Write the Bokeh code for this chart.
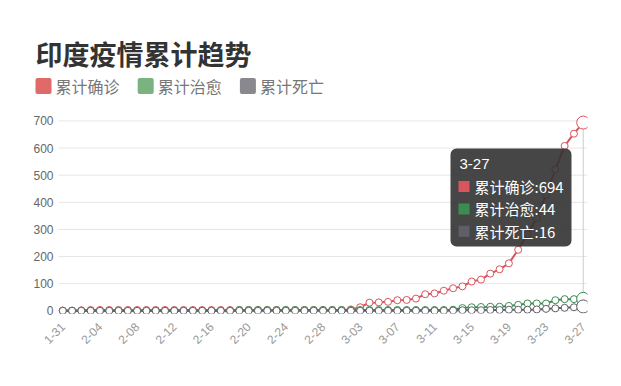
import math
from bokeh.plotting import figure
from bokeh.models import Range1d, FixedTicker, Label, BoxAnnotation, ColumnDataSource
from bokeh.embed import file_html
from bokeh.resources import INLINE

title_text = "印度疫情累计趋势"
series_names = ["累计确诊", "累计治愈", "累计死亡"]
line_colors = ["#d9545d", "#3c8c51", "#5f5f67"]
legend_colors = ["#e06a6a", "#7ab380", "#88888e"]

dates = ["1-31",
         "2-01", "2-02", "2-03", "2-04", "2-05", "2-06", "2-07", "2-08", "2-09", "2-10",
         "2-11", "2-12", "2-13", "2-14", "2-15", "2-16", "2-17", "2-18", "2-19", "2-20",
         "2-21", "2-22", "2-23", "2-24", "2-25", "2-26", "2-27", "2-28", "2-29",
         "3-01", "3-02", "3-03", "3-04", "3-05", "3-06", "3-07", "3-08", "3-09", "3-10",
         "3-11", "3-12", "3-13", "3-14", "3-15", "3-16", "3-17", "3-18", "3-19", "3-20",
         "3-21", "3-22", "3-23", "3-24", "3-25", "3-26", "3-27"]

confirmed = [1,
             1, 2, 3, 3, 3, 3, 3, 3, 3, 3,
             3, 3, 3, 3, 3, 3, 3, 3, 3, 3,
             3, 3, 3, 3, 3, 3, 3, 3, 3,
             3, 5, 13, 30, 31, 33, 39, 40, 45, 61,
             64, 74, 83, 90, 108, 115, 137, 153, 175, 225,
             283, 342, 428, 521, 608, 653, 694]

recovered = [0,
             0, 0, 0, 0, 0, 0, 0, 0, 0, 0,
             0, 0, 0, 0, 0, 0, 0, 0, 3, 3,
             3, 3, 3, 3, 3, 3, 3, 3, 3,
             3, 3, 3, 3, 3, 3, 3, 3, 3, 3,
             3, 3, 4, 10, 13, 14, 15, 15, 18, 22,
             27, 27, 27, 39, 43, 43, 44]

deaths = [0,
          0, 0, 0, 0, 0, 0, 0, 0, 0, 0,
          0, 0, 0, 0, 0, 0, 0, 0, 0, 0,
          0, 0, 0, 0, 0, 0, 0, 0, 0,
          0, 0, 0, 0, 0, 0, 0, 0, 0, 0,
          0, 0, 1, 2, 2, 2, 3, 3, 4, 4,
          4, 5, 7, 9, 11, 13, 16]

y_ticks = [0, 100, 200, 300, 400, 500, 600, 700]

CJK = "Noto Sans CJK SC"
LAT = "Liberation Sans"

n = len(dates)
xs = list(range(n))

# plot band: half a category of padding on each side of the data
x_lo, x_hi = -0.46, n - 1 + 0.46
PX_PER_DAY = 9.293          # 529 px frame band / 56.92 categories
FRAME_L, BAND_L = 30, 58    # drawing frame starts left of the data band (for title/legend)
x_start = x_lo - (BAND_L - FRAME_L) / PX_PER_DAY

p = figure(width=605, height=370, output_backend="svg", toolbar_location=None,
           x_range=Range1d(x_start, x_hi), y_range=Range1d(-10, 1033.5),
           min_border_left=FRAME_L, min_border_right=18, min_border_top=30, min_border_bottom=57)
p.outline_line_color = None
p.background_fill_color = "white"
p.border_fill_color = "white"

# x axis
p.xaxis.ticker = FixedTicker(ticks=list(range(0, n, 4)))
p.xaxis.major_label_overrides = {i: dates[i] for i in range(0, n, 4)}
p.xaxis.major_label_orientation = math.pi / 4
p.xaxis.axis_line_color = None
p.xaxis.major_tick_line_color = None
p.xaxis.minor_tick_line_color = None
p.xaxis.major_tick_out = 0
p.xaxis.major_tick_in = 0
p.xaxis.major_label_text_color = "#999999"
p.xaxis.major_label_text_font = LAT
p.xaxis.major_label_text_font_size = "12px"
p.xaxis.major_label_standoff = 11

# y axis: labels sit just left of the data band
p.yaxis.ticker = FixedTicker(ticks=y_ticks)
p.yaxis.axis_line_color = None
p.yaxis.major_tick_line_color = None
p.yaxis.minor_tick_line_color = None
p.yaxis.major_tick_out = 0
p.yaxis.major_tick_in = 0
p.yaxis.major_label_text_color = "#666666"
p.yaxis.major_label_text_font = LAT
p.yaxis.major_label_text_font_size = "12px"
p.yaxis.major_label_standoff = -23

# horizontal grid lines across the data band only
p.xgrid.grid_line_color = None
p.ygrid.grid_line_color = None
p.segment(x0=[x_lo] * len(y_ticks), y0=y_ticks, x1=[x_hi] * len(y_ticks), y1=y_ticks,
          line_color="#e6e6e6", line_width=1)

# axis pointer at the hovered (last) category
p.segment(x0=[xs[-1]], y0=[0], x1=[xs[-1]], y1=[y_ticks[-1]], line_color="#cccccc", line_width=1)

all_series = [confirmed, recovered, deaths]
for vals, col in zip(all_series, line_colors):
    src = ColumnDataSource(dict(x=xs, y=vals))
    p.line("x", "y", source=src, line_color=col, line_width=2)
    p.scatter("x", "y", source=src, size=7, marker="circle", fill_color="white",
              line_color=col, line_width=1)
    p.scatter([xs[-1]], [vals[-1]], size=13, marker="circle", fill_color="white",
              line_color=col, line_width=1)

# title
p.add_layout(Label(x=35, y=52.5, x_units="canvas", y_units="canvas", text=title_text,
                   text_font=CJK, text_font_size="27px", text_font_style="bold",
                   text_color="#333333", text_baseline="middle", text_align="left"))

# legend
for k, (name, col) in enumerate(zip(series_names, legend_colors)):
    lx = 35 + 102.2 * k
    p.add_layout(BoxAnnotation(left=lx, right=lx + 16, top=77.6, bottom=93.4,
                               left_units="canvas", right_units="canvas",
                               top_units="canvas", bottom_units="canvas",
                               fill_color=col, fill_alpha=1, line_color=None,
                               border_radius=2))
    p.add_layout(Label(x=lx + 20, y=85.5, x_units="canvas", y_units="canvas", text=name,
                       text_font=CJK, text_font_size="16px", text_color="#777777",
                       text_baseline="middle", text_align="left"))

# tooltip
tl, tr, tt, tb = 450, 571, 148, 246
p.add_layout(BoxAnnotation(left=tl, right=tr, top=tt, bottom=tb,
                           left_units="canvas", right_units="canvas",
                           top_units="canvas", bottom_units="canvas",
                           fill_color="#323232", fill_alpha=0.9, line_color=None,
                           border_radius=6))
p.add_layout(Label(x=tl + 9, y=tt + 15.5, x_units="canvas", y_units="canvas", text=dates[-1],
                   text_font=LAT, text_font_size="15px", text_color="white",
                   text_baseline="middle", text_align="left"))
for k, (name, col, vals) in enumerate(zip(series_names, line_colors, all_series)):
    cy = tt + 38 + k * 22.4
    p.add_layout(BoxAnnotation(left=tl + 8, right=tl + 19, top=cy - 5.5, bottom=cy + 5.5,
                               left_units="canvas", right_units="canvas",
                               top_units="canvas", bottom_units="canvas",
                               fill_color=col, fill_alpha=1, line_color=None))
    p.add_layout(Label(x=tl + 24, y=cy, x_units="canvas", y_units="canvas",
                       text=f"{name}:{vals[-1]}",
                       text_font=CJK, text_font_size="15px", text_color="white",
                       text_baseline="middle", text_align="left"))

open("out.html", "w").write(file_html(p, INLINE))
